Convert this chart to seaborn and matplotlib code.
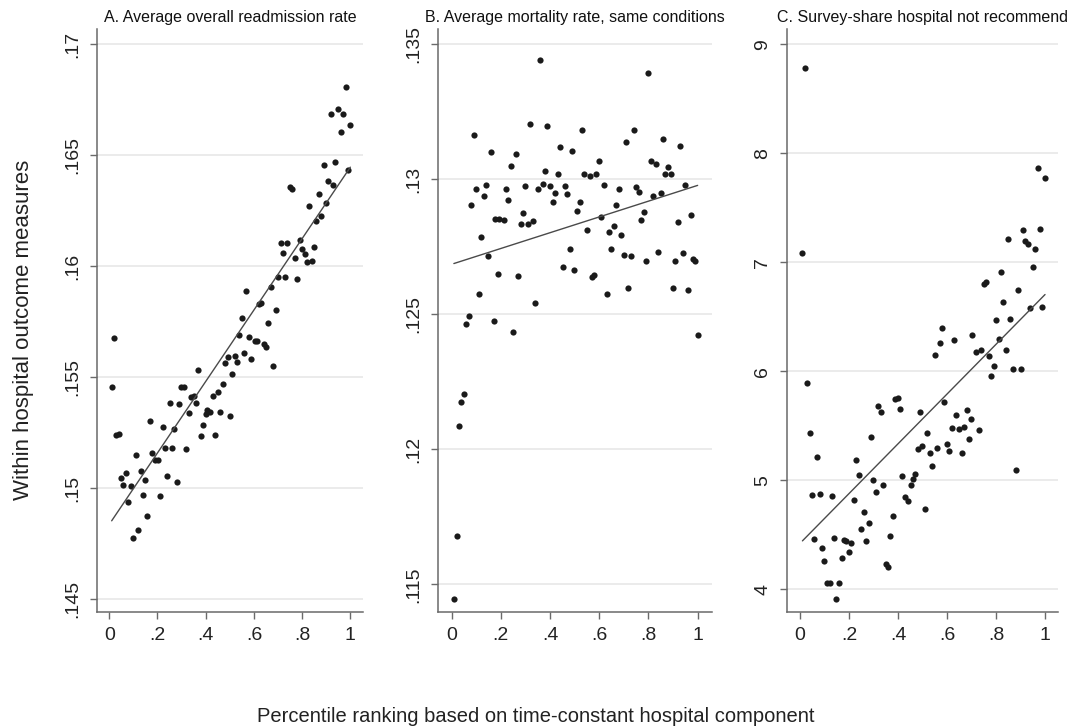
import matplotlib
matplotlib.use("Agg")
import matplotlib.pyplot as plt
import seaborn as sns

# Panel A: average overall readmission rate by percentile
pct_a = [.01, .019, .029, .039, .05, .059, .071, .079, .089, .1, .109, .119, .13, .14, .149, .158,
         .17, .178, .19, .202, .21, .221, .23, .241, .25, .26, .27, .279, .289, .299, .308, .318,
         .329, .34, .351, .36, .369, .379, .389, .401, .407, .419, .432, .44, .451, .459, .47, .48,
         .491, .499, .509, .52, .53, .538, .55, .559, .568, .578, .588, .604, .613, .62, .63, .64,
         .651, .658, .669, .68, .69, .70, .711, .72, .73, .739, .75, .76, .769, .779, .79, .80,
         .81, .82, .83, .84, .849, .859, .87, .88, .889, .899, .909, .92, .928, .938, .95, .96,
         .968, .98, .99, 1.0]
readmit = [.15456, .15679, .15242, .15245, .15045, .15014, .15071, .14938, .15011, .14778, .1515,
           .14812, .15076, .14971, .15039, .14875, .15305, .1516, .15128, .15128, .14965, .15278,
           .15183, .15057, .15383, .15183, .15267, .1503, .15379, .15458, .15458, .15177, .15341,
           .1541, .15414, .15383, .15533, .15237, .15284, .15333, .15354, .15344, .15418, .15242,
           .15433, .15345, .15468, .15565, .1559, .15326, .15516, .15598, .15568, .15689, .15766,
           .15611, .15887, .15683, .15584, .15664, .15665, .1583, .15836, .15649, .15638, .15745,
           .15907, .15553, .15802, .15952, .16107, .16059, .15952, .16107, .16359, .16348, .16036,
           .15943, .16119, .1608, .16057, .16018, .16273, .16026, .16088, .16204, .16326, .16228,
           .16458, .16284, .16386, .16686, .16365, .16468, .16707, .16607, .16686, .16808, .16435,
           .16635]

# Panel B: average mortality rate, same conditions
pct_b = [.009, .02, .028, .039, .049, .058, .069, .079, .089, .099, .11, .119, .13, .14, .149, .159,
         .171, .176, .188, .192, .211, .22, .23, .24, .25, .26, .268, .28, .289, .299, .309, .32,
         .331, .34, .35, .36, .37, .378, .389, .398, .411, .419, .431, .44, .451, .459, .469, .48,
         .489, .499, .509, .522, .53, .539, .55, .561, .569, .579, .588, .599, .607, .619, .63, .64,
         .649, .661, .669, .679, .688, .699, .709, .718, .73, .741, .751, .76, .771, .78, .79, .80,
         .809, .82, .829, .84, .851, .86, .869, .878, .892, .90, .909, .92, .93, .94, .95, .959,
         .972, .98, .989, 1.0]
mortality = [.11447, .11678, .12088, .12175, .12204, .12464, .12494, .12905, .13165, .12964, .12575,
             .12785, .12937, .1298, .12717, .131, .12474, .12852, .1265, .12852, .12851, .12964,
             .12923, .13051, .12436, .13094, .12641, .12836, .12875, .12977, .12836, .13206, .12846,
             .12541, .12964, .13442, .12983, .13032, .13198, .12977, .12915, .12951, .13019, .1312,
             .12674, .12977, .12947, .12742, .13106, .12665, .12881, .12915, .13184, .13021, .12811,
             .13014, .12637, .12646, .13019, .13068, .12859, .1298, .12575, .12804, .12743, .12828,
             .12905, .12964, .12794, .1272, .13138, .12599, .12716, .13183, .12973, .12954, .12849,
             .1288, .12696, .13393, .13068, .12938, .13056, .12732, .12951, .13148, .13021, .13046,
             .13021, .12596, .12698, .12841, .13125, .12727, .1298, .12589, .12867, .12704, .12699,
             .12423]

# Panel C: survey share, hospital not recommended
pct_c = [.01, .019, .027, .039, .048, .059, .069, .08, .09, .099, .109, .122, .129, .139, .148, .158,
         .17, .178, .189, .20, .208, .22, .23, .239, .249, .26, .269, .28, .288, .299, .309, .32,
         .329, .34, .35, .359, .369, .38, .389, .40, .408, .418, .43, .439, .452, .46, .471, .48,
         .49, .498, .51, .518, .529, .539, .551, .561, .571, .58, .589, .599, .61, .619, .629, .638,
         .649, .661, .669, .68, .69, .699, .702, .72, .729, .74, .75, .758, .77, .78, .79, .80,
         .812, .819, .829, .841, .849, .858, .869, .88, .89, .90, .912, .92, .929, .939, .95, .959,
         .97, .98, .989, 1.0]
not_recommend = [7.086, 8.78, 5.89, 5.434, 4.869, 4.462, 5.214, 4.875, 4.382, 4.26, 4.061, 4.061,
                 4.86, 4.468, 3.914, 4.061, 4.287, 4.453, 4.446, 4.342, 4.428, 4.823, 5.19, 5.052,
                 4.557, 4.707, 4.443, 4.609, 5.394, 5.003, 4.89, 5.682, 5.624, 4.954, 4.235, 4.202,
                 4.493, 4.676, 5.743, 5.755, 5.652, 5.04, 4.847, 4.813, 4.954, 5.009, 5.061, 5.284,
                 5.63, 5.318, 4.737, 5.431, 5.254, 5.131, 6.153, 5.30, 6.257, 6.394, 5.716, 5.33,
                 5.269, 5.48, 6.291, 5.602, 5.471, 5.248, 5.489, 5.645, 5.379, 5.563, 6.333, 6.18,
                 5.462, 6.196, 6.801, 6.817, 6.14, 5.957, 6.052, 6.471, 6.30, 6.908, 6.636, 6.199,
                 7.217, 6.477, 6.018, 5.098, 6.749, 6.018, 7.297, 7.193, 7.168, 6.584, 6.957, 7.122,
                 7.869, 7.303, 6.587, 7.774]

titles = ["A. Average overall readmission rate",
          "B. Average mortality rate, same conditions",
          "C. Survey-share hospital not recommend"]
yticks_a = [.145, .15, .155, .16, .165, .17]
yticks_b = [.115, .12, .125, .13, .135]
yticks_c = [4, 5, 6, 7, 8, 9]
xticks = [0, .2, .4, .6, .8, 1]


def stata_label(v):
    s = f"{v:g}"
    if s.startswith("0."):
        s = s[1:]
    return s


sns.set_style("white")
plt.rcParams["font.family"] = ["Liberation Sans", "DejaVu Sans"]

fig = plt.figure(figsize=(10.75, 7.27), dpi=100)

panels = [
    (pct_a, readmit, yticks_a, (.14443, .17069), (-0.051, 1.0527), [0.0902, 0.2475]),
    (pct_b, mortality, yticks_b, (.113974, .135567), (-0.0557, 1.057), [0.4074, 0.2546]),
    (pct_c, not_recommend, yticks_c, (3.792, 9.14), (-0.0543, 1.053), [0.7318, 0.2524]),
]

for (xs, ys, yt, ylim, xlim, pos), title in zip(panels, titles):
    ax = fig.add_axes([pos[0], 0.1582, pos[1], 0.8019])
    sns.regplot(x=xs, y=ys, ax=ax, ci=None, truncate=True,
                scatter_kws=dict(s=20, color="#1a1a1a", linewidths=0, alpha=1),
                line_kws=dict(color="#4a4a4a", lw=1.0))
    ax.set_xlim(*xlim)
    ax.set_ylim(*ylim)
    ax.set_xticks(xticks)
    ax.set_xticklabels([stata_label(v) for v in xticks])
    ax.set_yticks(yt)
    ax.set_yticklabels([stata_label(v) for v in yt], rotation=90, va="center")
    ax.yaxis.grid(True, color="#e8e8e8", lw=1.2)
    ax.xaxis.grid(False)
    ax.set_axisbelow(True)
    for side in ["top", "right"]:
        ax.spines[side].set_visible(False)
    for side in ["left", "bottom"]:
        ax.spines[side].set_color("#6a6a6a")
        ax.spines[side].set_linewidth(1.1)
    ax.tick_params(axis="both", length=5, width=1, color="#6a6a6a",
                   labelsize=14, labelcolor="#222222", pad=6, left=True, bottom=True)
    ax.set_title(title, fontsize=11.5, pad=5, color="#111111")

fig.text(24 / 1075, 1 - 330 / 727, "Within hospital outcome measures",
         rotation=90, ha="center", va="center", fontsize=16, color="#222222")
fig.text(536 / 1075, 1 - 716 / 727,
         "Percentile ranking based on time-constant hospital component",
         ha="center", va="center", fontsize=14.5, color="#222222")

fig.savefig("out.png", dpi=100, facecolor="white")
